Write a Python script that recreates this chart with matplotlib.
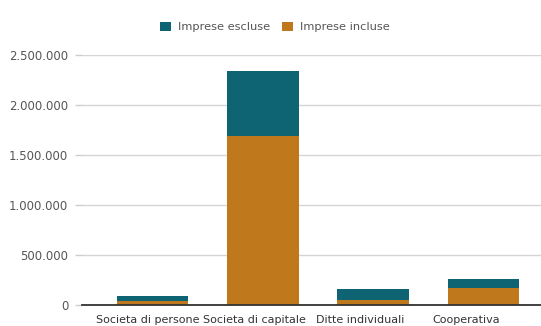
import matplotlib.pyplot as plt
from matplotlib.ticker import FuncFormatter
import numpy as np

# Numero di imprese per forma giuridica
categorie = ["Societa di persone", "Societa di capitale", "Ditte individuali", "Cooperativa"]
incluse = [43000, 1697000, 47000, 173000]
escluse = [44000, 650000, 110000, 90000]

COL_ESCLUSE = "#0e6472"
COL_INCLUSE = "#c0781d"
GRIGIO_TESTO = "#555555"

plt.rcParams["font.family"] = "DejaVu Sans"

fig = plt.figure(figsize=(5.41, 3.26), dpi=100)
ax = fig.add_axes([0.1516, 0.0644, 0.8484, 0.7656])

x = np.arange(len(categorie))
larghezza = 0.65
ax.bar(x, incluse, width=larghezza, color=COL_INCLUSE, label="Imprese incluse", zorder=3)
ax.bar(x, escluse, width=larghezza, bottom=incluse, color=COL_ESCLUSE,
       label="Imprese escluse", zorder=3)

ax.set_xlim(-0.64, 3.52)
ax.set_ylim(0, 2500000)
ax.set_yticks(np.arange(0, 2500001, 500000))
ax.yaxis.set_major_formatter(FuncFormatter(lambda v, _: f"{int(v):,}".replace(",", ".")))

# etichette delle categorie leggermente spostate a sinistra
ax.set_xticks(x * 0.96 - 0.04)
ax.set_xticklabels(categorie)
ax.tick_params(axis="x", length=0, pad=7.5, labelsize=8, labelcolor="#333333")
ax.tick_params(axis="y", length=5, width=1, color="#cccccc", pad=5,
               labelsize=8.4, labelcolor=GRIGIO_TESTO)

ax.grid(axis="y", color="#d5d5d5", linewidth=1, zorder=0)
ax.set_axisbelow(True)
for lato in ["top", "right", "left"]:
    ax.spines[lato].set_visible(False)
ax.spines["bottom"].set_color("#333333")
ax.spines["bottom"].set_linewidth(1.3)
ax.spines["bottom"].set_zorder(4)

handles, labels = ax.get_legend_handles_labels()
fig.legend(handles[::-1], labels[::-1], loc="center", bbox_to_anchor=(0.508, 0.917),
           ncol=2, frameon=False, fontsize=8.2, labelcolor=GRIGIO_TESTO,
           handlelength=0.95, handleheight=0.95, handletextpad=0.6, columnspacing=1.1)

fig.savefig("out.png", dpi=100)
